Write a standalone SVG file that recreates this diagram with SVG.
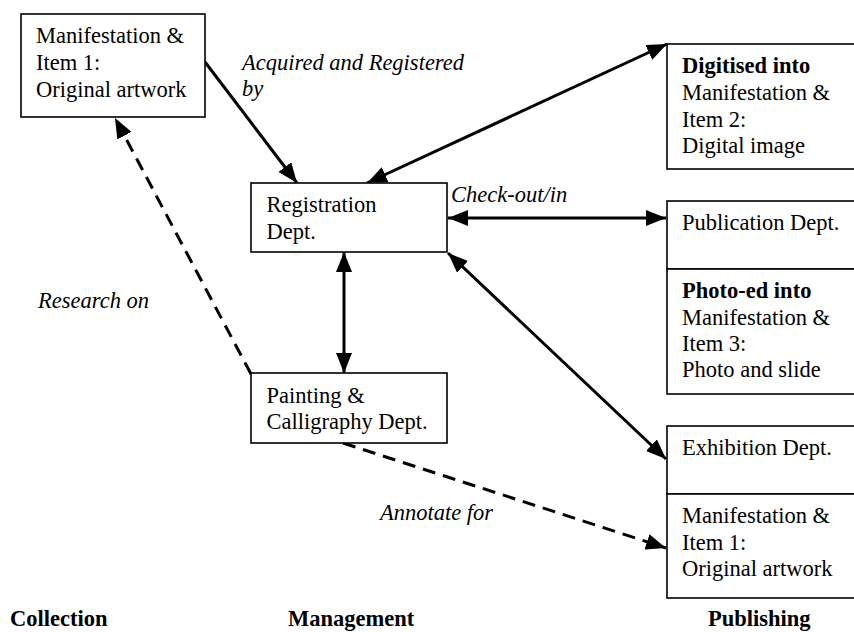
<svg xmlns="http://www.w3.org/2000/svg" width="854" height="632" viewBox="0 0 854 632">
<defs>
<style>
.box{fill:#fff;stroke:#000;stroke-width:1.6}
text{font-family:'Liberation Serif','Times New Roman',Times,serif;font-size:22.5px;fill:#000}
.b{font-weight:bold}
.i{font-style:italic}
.ln{fill:none;stroke:#000;stroke-width:3}
.dash{stroke-dasharray:13 8}
</style>
<marker id="ah" markerUnits="userSpaceOnUse" markerWidth="20" markerHeight="16" viewBox="0 0 20 16" refX="20" refY="8" orient="auto-start-reverse">
<path d="M0,0 L20,8 L0,16 z" fill="#000"/>
</marker>
</defs>
<rect width="854" height="632" fill="#fff"/>

<g id="connectors">
<line class="ln" x1="205" y1="62" x2="297" y2="183" marker-end="url(#ah)"/>
<line class="ln" x1="367" y1="183" x2="667" y2="44" marker-start="url(#ah)" marker-end="url(#ah)"/>
<line class="ln" x1="448" y1="218" x2="666" y2="218" marker-start="url(#ah)" marker-end="url(#ah)"/>
<line class="ln" x1="448" y1="253" x2="666" y2="459" marker-start="url(#ah)" marker-end="url(#ah)"/>
<line class="ln" x1="344" y1="252" x2="344" y2="373" marker-start="url(#ah)" marker-end="url(#ah)"/>
<line class="ln dash" x1="251" y1="374" x2="115" y2="118" marker-end="url(#ah)"/>
<line class="ln dash" x1="343" y1="443" x2="666" y2="548" marker-end="url(#ah)"/>
<text font-family="Liberation Serif, serif" class="i" x="242" y="70">Acquired and Registered</text>
<text font-family="Liberation Serif, serif" class="i" x="242" y="96">by</text>
<text font-family="Liberation Serif, serif" class="i" x="451" y="202">Check-out/in</text>
<text font-family="Liberation Serif, serif" class="i" x="38" y="308">Research on</text>
<text font-family="Liberation Serif, serif" class="i" x="380" y="520">Annotate for</text>
</g>

<g id="item1">
<rect class="box" x="21" y="14" width="184" height="103"/>
<text x="36" y="43">Manifestation &amp;</text>
<text x="36" y="70">Item 1:</text>
<text x="36" y="96.5">Original artwork</text>
</g>

<g id="registration">
<rect class="box" x="251" y="183" width="196" height="69"/>
<text x="266.5" y="211.5">Registration</text>
<text x="266.5" y="238.5">Dept.</text>
</g>

<g id="painting">
<rect class="box" x="251" y="373" width="196" height="70"/>
<text x="266.5" y="402.5">Painting &amp;</text>
<text x="266.5" y="429">Calligraphy Dept.</text>
</g>

<g id="digitised">
<rect class="box" x="667" y="44" width="200" height="125"/>
<text class="b" x="682" y="73">Digitised into</text>
<text x="682" y="100">Manifestation &amp;</text>
<text x="682" y="126.5">Item 2:</text>
<text x="682" y="152.5">Digital image</text>
</g>

<g id="publication">
<rect class="box" x="667" y="201" width="200" height="68"/>
<text x="682" y="230">Publication Dept.</text>
</g>

<g id="photoed">
<rect class="box" x="667" y="269" width="200" height="125"/>
<text class="b" x="682" y="298">Photo-ed into</text>
<text x="682" y="325">Manifestation &amp;</text>
<text x="682" y="351">Item 3:</text>
<text x="682" y="377">Photo and slide</text>
</g>

<g id="exhibition">
<rect class="box" x="667" y="426" width="200" height="68"/>
<text x="682" y="455">Exhibition Dept.</text>
</g>

<g id="item1b">
<rect class="box" x="667" y="494" width="200" height="104"/>
<text x="682" y="523">Manifestation &amp;</text>
<text x="682" y="549.5">Item 1:</text>
<text x="682" y="576">Original artwork</text>
</g>

<g id="headings">
<text class="b" x="10" y="626">Collection</text>
<text class="b" x="288" y="626">Management</text>
<text class="b" x="708" y="626">Publishing</text>
</g>
</svg>
